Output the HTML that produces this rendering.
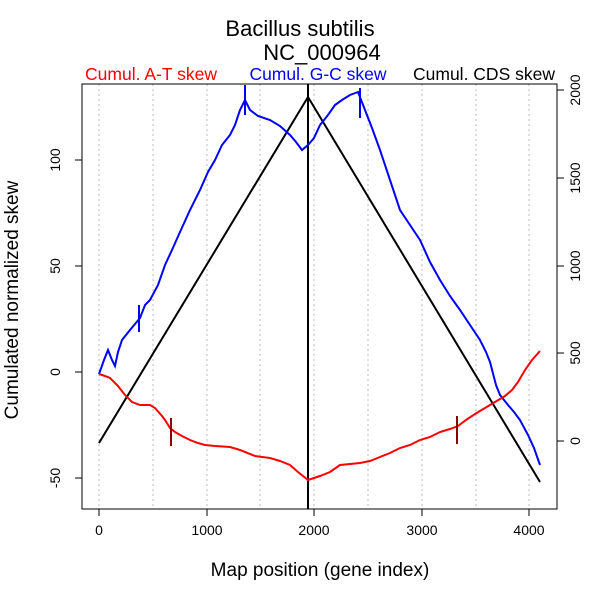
<!DOCTYPE html>
<html><head><style>body{margin:0;background:#fff}svg{display:block}text{font-family:"Liberation Sans",sans-serif}</style></head><body>
<svg width="600" height="600" viewBox="0 0 600 600">
<g stroke="#bbb" stroke-dasharray="2,3" stroke-width="1">
<line x1="99" y1="84" x2="99" y2="509"/><line x1="153" y1="84" x2="153" y2="509"/><line x1="207" y1="84" x2="207" y2="509"/><line x1="260" y1="84" x2="260" y2="509"/><line x1="314" y1="84" x2="314" y2="509"/><line x1="368" y1="84" x2="368" y2="509"/><line x1="422" y1="84" x2="422" y2="509"/><line x1="476" y1="84" x2="476" y2="509"/><line x1="529" y1="84" x2="529" y2="509"/>
</g>
<rect x="82" y="84" width="475" height="425" fill="none" stroke="#000"/>
<text x="300" y="36" font-size="22" text-anchor="middle">Bacillus subtilis</text>
<text x="322" y="60" font-size="22" text-anchor="middle">NC_000964</text>
<text x="151" y="80" font-size="17.5" fill="#f00" text-anchor="middle">Cumul. A-T skew</text>
<text x="318" y="80" font-size="17.5" fill="#00f" text-anchor="middle">Cumul. G-C skew</text>
<text x="484" y="80" font-size="17.5" fill="#000" text-anchor="middle">Cumul. CDS skew</text>
<g stroke="#000">
<line x1="99" y1="509" x2="99" y2="516"/><line x1="207" y1="509" x2="207" y2="516"/><line x1="314" y1="509" x2="314" y2="516"/><line x1="422" y1="509" x2="422" y2="516"/><line x1="529" y1="509" x2="529" y2="516"/>
<line x1="82" y1="160" x2="75" y2="160"/><line x1="82" y1="266" x2="75" y2="266"/><line x1="82" y1="372" x2="75" y2="372"/><line x1="82" y1="478" x2="75" y2="478"/>
<line x1="557" y1="90" x2="564" y2="90"/><line x1="557" y1="178" x2="564" y2="178"/><line x1="557" y1="266" x2="564" y2="266"/><line x1="557" y1="353" x2="564" y2="353"/><line x1="557" y1="441" x2="564" y2="441"/>
</g>
<g font-size="14" text-anchor="middle">
<text x="99" y="535">0</text><text x="207" y="535">1000</text><text x="314" y="535">2000</text><text x="422" y="535">3000</text><text x="529" y="535">4000</text>
<text transform="translate(60,160) rotate(-90)">100</text><text transform="translate(60,266) rotate(-90)">50</text><text transform="translate(60,372) rotate(-90)">0</text><text transform="translate(60,478) rotate(-90)">-50</text>
<text transform="translate(580,90) rotate(-90)">2000</text><text transform="translate(580,178) rotate(-90)">1500</text><text transform="translate(580,266) rotate(-90)">1000</text><text transform="translate(580,353) rotate(-90)">500</text><text transform="translate(580,441) rotate(-90)">0</text>
</g>
<text x="320" y="576" font-size="19" text-anchor="middle">Map position (gene index)</text>
<text transform="translate(18,300) rotate(-90)" font-size="19" text-anchor="middle">Cumulated normalized skew</text>
<line x1="308" y1="84" x2="308" y2="509" stroke="#000" stroke-width="2"/>
<polyline points="99,443 308,97 540,482" fill="none" stroke="#000" stroke-width="2"/>
<polyline points="99,374 104,360 108,350 112,360 115,366 118,352 122,340 130,330 140,318 145,305 150,300 158,285 165,265 172,250 180,232 190,210 200,190 208,172 215,160 222,145 230,135 235,125 240,110 245,100 250,110 258,116 270,120 280,126 290,135 296,142 302,150 308,145 314,138 320,125 328,115 335,105 342,100 350,95 358,92 365,110 372,128 380,150 390,180 400,210 410,225 420,240 430,262 440,280 450,296 460,310 470,325 480,340 486,352 490,362 496,385 500,395 508,405 514,412 520,420 528,435 534,448 540,465" fill="none" stroke="#00f" stroke-width="2"/>
<polyline points="99,374 105,376 110,378 118,386 125,395 132,402 140,405 150,405 155,408 162,416 165,420 170,428 175,432 182,436 190,440 198,443 205,445 215,446 230,447 240,450 255,456 262,457 270,458 280,461 290,465 298,472 308,480 314,478 320,476 330,472 340,465 350,464 360,463 370,461 380,457 390,453 400,448 410,445 420,440 430,437 440,432 450,429 458,426 466,420 475,414 485,408 495,402 505,396 512,390 518,382 525,370 532,360 540,351" fill="none" stroke="#f00" stroke-width="2"/>
<g stroke-width="2"><line x1="139" y1="305" x2="139" y2="332" stroke="#00f"/><line x1="245" y1="85" x2="245" y2="115" stroke="#00f"/><line x1="360" y1="88" x2="360" y2="118" stroke="#00f"/>
<line x1="171" y1="418" x2="171" y2="446" stroke="#8b0000"/><line x1="457" y1="416" x2="457" y2="444" stroke="#8b0000"/></g>
</svg>
</body></html>
